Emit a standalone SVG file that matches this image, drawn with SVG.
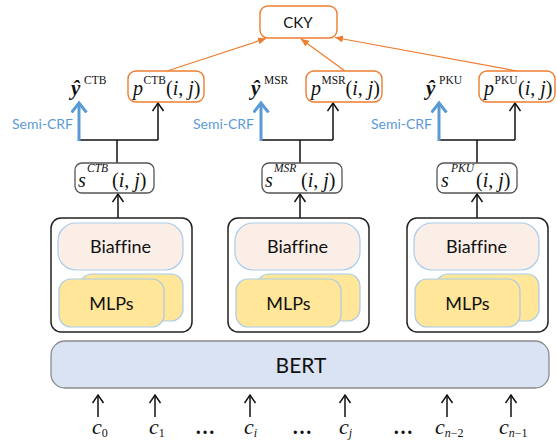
<svg xmlns="http://www.w3.org/2000/svg" width="557" height="441" viewBox="0 0 557 441">
<style>
.sans{font-family:Lato,"Open Sans","Liberation Sans",sans-serif;fill:#111;font-variant-ligatures:none;}
.ser{font-family:"Liberation Serif","Times New Roman",serif;fill:#111;}
.it{font-style:italic;}
.blk{fill:#fff;stroke:#222;stroke-width:1.5;}
.bia{fill:#FBEEE7;stroke:#A9CBEA;stroke-width:1.2;}
.mlp{fill:#FFE699;stroke:#A9CBEA;stroke-width:1.2;}
.sbox{fill:#fff;stroke:#555;stroke-width:1.3;}
.pbox{fill:#fff;stroke:#ED7D31;stroke-width:1.4;}
.ln{fill:none;stroke:#111;stroke-width:1.5;}
.blue{fill:none;stroke:#5B9BD5;stroke-width:3;}
.or{fill:none;stroke:#ED7D31;stroke-width:1.2;}
.crf{font-family:Lato,"Open Sans","Liberation Sans",sans-serif;fill:#5B9BD5;font-size:14px;}
</style>
<defs>
<marker id="chev" markerUnits="userSpaceOnUse" markerWidth="14" markerHeight="14" refX="9" refY="6" orient="auto" viewBox="0 0 14 14">
<path d="M1,0.5 L9,6 L1,11.5" fill="none" stroke="#111" stroke-width="1.5"/>
</marker>
<marker id="bchev" markerUnits="userSpaceOnUse" markerWidth="16" markerHeight="20" refX="10" refY="8" orient="auto" viewBox="0 0 16 20">
<path d="M0.5,0.5 L10,8 L0.5,15.5" fill="none" stroke="#5B9BD5" stroke-width="3"/>
</marker>
<marker id="otri" markerUnits="userSpaceOnUse" markerWidth="10" markerHeight="8" refX="8" refY="3.5" orient="auto" viewBox="0 0 10 8">
<path d="M0,0 L8,3.5 L0,7 z" fill="#ED7D31"/>
</marker>
<g id="stack">
<rect class="blk" x="51" y="218" width="141" height="114" rx="10"/>
<rect class="bia" x="58" y="223" width="125" height="47" rx="18"/>
<rect class="mlp" x="80" y="274" width="103" height="47" rx="12"/>
<rect class="mlp" x="59" y="279" width="105" height="48" rx="12"/>
<text class="sans" x="120.5" y="253" font-size="18" text-anchor="middle">Biaffine</text>
<text class="sans" x="111.5" y="310" font-size="18" text-anchor="middle">MLPs</text>
</g>
</defs>

<g id="connectors">
<line class="or" x1="167" y1="71" x2="266" y2="38.5" marker-end="url(#otri)"/>
<line class="or" x1="345" y1="71" x2="301" y2="39" marker-end="url(#otri)"/>
<line class="or" x1="517" y1="71" x2="335" y2="37.5" marker-end="url(#otri)"/>
<line class="ln" x1="117" y1="163" x2="117" y2="140"/>
<line class="ln" x1="78" y1="140" x2="158" y2="140"/>
<line class="ln" x1="158" y1="140" x2="158" y2="103" marker-end="url(#chev)"/>
<line class="blue" x1="79" y1="141" x2="79" y2="103" marker-end="url(#bchev)"/>
<line class="ln" x1="118" y1="218" x2="118" y2="194" marker-end="url(#chev)"/>
<line class="ln" x1="300" y1="163" x2="300" y2="140"/>
<line class="ln" x1="260" y1="140" x2="333" y2="140"/>
<line class="ln" x1="333" y1="140" x2="333" y2="103" marker-end="url(#chev)"/>
<line class="blue" x1="261" y1="141" x2="261" y2="103" marker-end="url(#bchev)"/>
<line class="ln" x1="300" y1="218" x2="300" y2="194" marker-end="url(#chev)"/>
<line class="ln" x1="477" y1="163" x2="477" y2="140"/>
<line class="ln" x1="438" y1="140" x2="515" y2="140"/>
<line class="ln" x1="515" y1="140" x2="515" y2="103" marker-end="url(#chev)"/>
<line class="blue" x1="439" y1="141" x2="439" y2="103" marker-end="url(#bchev)"/>
<line class="ln" x1="477" y1="218" x2="477" y2="194" marker-end="url(#chev)"/>
<line class="ln" x1="98" y1="417" x2="98" y2="395" marker-end="url(#chev)"/>
<line class="ln" x1="155" y1="417" x2="155" y2="395" marker-end="url(#chev)"/>
<line class="ln" x1="250" y1="417" x2="250" y2="395" marker-end="url(#chev)"/>
<line class="ln" x1="345" y1="417" x2="345" y2="395" marker-end="url(#chev)"/>
<line class="ln" x1="447" y1="417" x2="447" y2="395" marker-end="url(#chev)"/>
<line class="ln" x1="511" y1="417" x2="511" y2="395" marker-end="url(#chev)"/>
</g>

<g id="cky">
<rect class="pbox" x="260" y="6" width="77" height="32" rx="8"/>
<text class="sans" x="298" y="28" font-size="15" text-anchor="middle">CKY</text>
</g>

<g id="yhat-ctb">
<text class="ser" x="71" y="95" font-size="21" font-style="italic" font-weight="bold">ŷ</text>
<text class="ser" x="84" y="84" font-size="11.5">CTB</text>
</g>
<g id="yhat-msr">
<text class="ser" x="251" y="95" font-size="21" font-style="italic" font-weight="bold">ŷ</text>
<text class="ser" x="264" y="84" font-size="11.5">MSR</text>
</g>
<g id="yhat-pku">
<text class="ser" x="426" y="95" font-size="21" font-style="italic" font-weight="bold">ŷ</text>
<text class="ser" x="439" y="84" font-size="11.5">PKU</text>
</g>

<g id="p-ctb">
<rect class="pbox" x="128" y="71" width="76" height="31" rx="8"/>
<text class="ser it" x="133" y="95" font-size="20">p</text>
<text class="ser" x="143.5" y="84" font-size="11.5">CTB</text>
<text class="ser" x="166" y="95" font-size="20">(<tspan class="it">i</tspan>, <tspan class="it">j</tspan>)</text>
</g>
<g id="p-msr">
<rect class="pbox" x="306" y="71" width="76" height="31" rx="8"/>
<text class="ser it" x="311" y="95" font-size="20">p</text>
<text class="ser" x="321.5" y="84" font-size="11.5">MSR</text>
<text class="ser" x="345.5" y="95" font-size="20">(<tspan class="it">i</tspan>, <tspan class="it">j</tspan>)</text>
</g>
<g id="p-pku">
<rect class="pbox" x="479" y="71" width="76" height="31" rx="8"/>
<text class="ser it" x="484" y="95" font-size="20">p</text>
<text class="ser" x="494.5" y="84" font-size="11.5">PKU</text>
<text class="ser" x="518" y="95" font-size="20">(<tspan class="it">i</tspan>, <tspan class="it">j</tspan>)</text>
</g>

<g id="crf-labels">
<text class="crf" x="73" y="129" text-anchor="end">Semi-CRF</text>
<text class="crf" x="254" y="129" text-anchor="end">Semi-CRF</text>
<text class="crf" x="432" y="129" text-anchor="end">Semi-CRF</text>
</g>

<g id="s-ctb">
<rect class="sbox" x="75" y="163" width="79" height="30" rx="7"/>
<text class="ser it" x="78" y="187" font-size="20">s</text>
<text class="ser it" x="87" y="172" font-size="11.5">CTB</text>
<text class="ser" x="112" y="187" font-size="20">(<tspan class="it">i</tspan>, <tspan class="it">j</tspan>)</text>
</g>
<g id="s-msr">
<rect class="sbox" x="262" y="163" width="80" height="30" rx="7"/>
<text class="ser it" x="265" y="187" font-size="20">s</text>
<text class="ser it" x="274" y="172" font-size="11.5">MSR</text>
<text class="ser" x="301" y="187" font-size="20">(<tspan class="it">i</tspan>, <tspan class="it">j</tspan>)</text>
</g>
<g id="s-pku">
<rect class="sbox" x="437" y="163" width="80" height="30" rx="7"/>
<text class="ser it" x="441" y="187" font-size="20">s</text>
<text class="ser it" x="451" y="172" font-size="11.5">PKU</text>
<text class="ser" x="476" y="187" font-size="20">(<tspan class="it">i</tspan>, <tspan class="it">j</tspan>)</text>
</g>

<g id="stack-ctb"><use href="#stack"/></g>
<g id="stack-msr"><use href="#stack" transform="translate(177,0)"/></g>
<g id="stack-pku"><use href="#stack" transform="translate(356,0)"/></g>

<g id="bert">
<rect x="51" y="341" width="498" height="47" rx="14" fill="#DAE3F3" stroke="#8C8C8C" stroke-width="1.3"/>
<text class="sans" x="301" y="373" font-size="21" text-anchor="middle">BERT</text>
</g>

<g id="inputs">
<text class="ser" x="92" y="434" font-size="22"><tspan class="it">c</tspan><tspan font-size="12" dy="3">0</tspan></text>
<text class="ser" x="149" y="434" font-size="22"><tspan class="it">c</tspan><tspan font-size="12" dy="3">1</tspan></text>
<text class="ser" x="244" y="434" font-size="22"><tspan class="it">c</tspan><tspan class="it" font-size="12" dy="3">i</tspan></text>
<text class="ser" x="339" y="434" font-size="22"><tspan class="it">c</tspan><tspan class="it" font-size="12" dy="3">j</tspan></text>
<text class="ser" x="435" y="434" font-size="22"><tspan class="it">c</tspan><tspan font-size="12" dy="3"><tspan class="it">n</tspan>−2</tspan></text>
<text class="ser" x="499" y="434" font-size="22"><tspan class="it">c</tspan><tspan font-size="12" dy="3"><tspan class="it">n</tspan>−1</tspan></text>
<text class="ser" x="205" y="434" font-size="20" font-weight="bold" text-anchor="middle">…</text>
<text class="ser" x="302" y="434" font-size="20" font-weight="bold" text-anchor="middle">…</text>
<text class="ser" x="403" y="434" font-size="20" font-weight="bold" text-anchor="middle">…</text>
</g>
</svg>
